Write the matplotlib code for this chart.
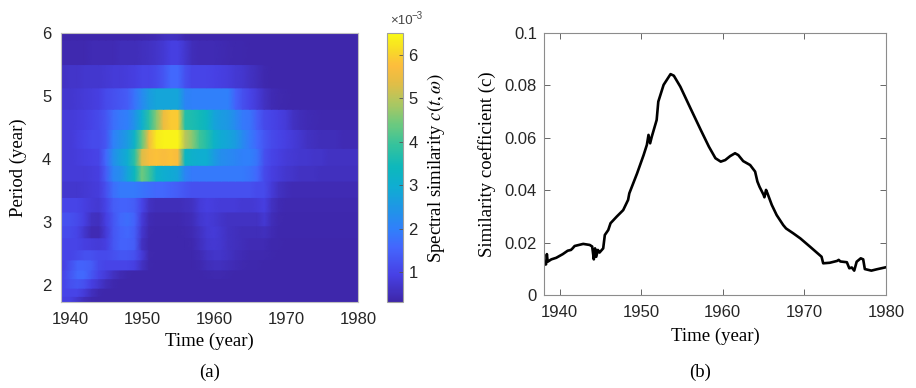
import numpy as np
import matplotlib
matplotlib.use('Agg')
import matplotlib.pyplot as plt
from matplotlib.colors import LinearSegmentedColormap


# period bin edges of the heat map rows (year), bottom to top
period_edges = [1.73, 1.82, 1.95, 2.10, 2.24, 2.40, 2.56, 2.75, 2.94, 3.16,
                3.39, 3.65, 3.90, 4.17, 4.47, 4.79, 5.13, 5.50, 5.89, 6.00]

# time nodes of the heat map (year)
map_years = list(range(1938, 1981))

# spectral similarity c(t, w) in units of 1e-3, one row per period bin, top row first
# columns: 1938 ... 1980
similarity_rows = [
    # 5.89 - 6.00
    [.35, .35, .35, .35, .35, .35, .35, .35, .35, .35,
     .35, .35, .38, .40, .45, .55, .60, .55, .40, .35,
     .35, .35, .35, .35, .35, .35, .35, .35, .35, .35,
     .35, .35, .35, .35, .35, .35, .35, .35, .35, .35,
     .35, .35, .35],
    # 5.50 - 5.89
    [.40, .40, .40, .40, .40, .45, .45, .45, .45, .50,
     .50, .50, .55, .60, .65, .75, .90, .90, .70, .50,
     .45, .45, .45, .42, .40, .38, .36, .35, .35, .35,
     .35, .35, .35, .35, .35, .35, .35, .35, .35, .35,
     .35, .35, .35],
    # 5.13 - 5.50
    [.60, .60, .65, .65, .70, .70, .70, .75, .80, .80,
     .85, .90, 1.0, 1.0, 1.1, 1.3, 1.6, 1.6, 1.2, 1.0,
     1.0, 1.0, .95, .90, .85, .75, .70, .60, .50, .40,
     .35, .35, .35, .35, .35, .35, .35, .35, .35, .35,
     .35, .35, .35],
    # 4.79 - 5.13
    [.70, .70, .70, .75, .80, .85, .90, 1.1, 1.2, 1.3,
     1.4, 1.8, 2.2, 2.6, 2.8, 2.8, 2.8, 2.8, 2.1, 2.0,
     2.0, 2.0, 2.0, 2.0, 2.0, 1.5, 1.2, 1.0, .80, .60,
     .45, .40, .38, .35, .35, .35, .35, .35, .35, .35,
     .35, .35, .35],
    # 4.47 - 4.79
    [.80, .80, .80, .85, .90, 1.0, 1.1, 1.3, 1.7, 1.9,
     2.0, 2.4, 3.0, 3.8, 4.6, 5.5, 5.9, 5.9, 3.7, 3.6,
     3.5, 3.3, 2.8, 2.6, 2.5, 2.2, 1.9, 1.8, 1.4, 1.1,
     1.0, .90, .80, .60, .50, .45, .42, .40, .40, .40,
     .40, .40, .40],
    # 4.17 - 4.47
    [.80, .80, .80, .90, 1.0, 1.1, 1.1, 1.3, 2.0, 2.3,
     2.6, 3.2, 4.3, 5.6, 6.3, 6.4, 6.4, 6.4, 5.0, 4.6,
     4.0, 3.7, 3.2, 2.9, 2.8, 2.6, 2.2, 1.9, 1.6, 1.3,
     1.1, 1.0, .90, .80, .70, .60, .55, .50, .50, .50,
     .45, .45, .45],
    # 3.90 - 4.17
    [.80, .80, .80, .85, .90, .95, 1.0, 1.6, 2.3, 2.7,
     3.0, 3.8, 5.3, 5.7, 5.8, 5.7, 5.8, 5.7, 3.3, 3.1,
     3.0, 3.0, 2.6, 2.3, 2.2, 2.1, 2.0, 2.0, 1.8, 1.2,
     1.0, .90, .80, .75, .70, .70, .65, .65, .60, .60,
     .60, .60, .60],
    # 3.65 - 3.90
    [.80, .80, .80, .80, .80, .85, .90, 1.4, 2.1, 2.3,
     2.8, 3.4, 4.4, 4.0, 3.2, 3.0, 2.9, 2.8, 2.1, 1.9,
     1.9, 1.9, 1.9, 1.9, 1.9, 1.9, 1.9, 1.8, 1.6, 1.1,
     .90, .80, .70, .65, .60, .60, .60, .55, .55, .55,
     .55, .55, .55],
    # 3.39 - 3.65
    [.70, .70, .70, .70, .75, .80, .85, 1.2, 1.7, 1.9,
     1.9, 1.9, 1.8, 1.7, 1.6, 1.6, 1.5, 1.4, 1.3, 1.2,
     1.2, 1.2, 1.2, 1.2, 1.2, 1.2, 1.2, 1.2, 1.1, 1.1,
     .80, .60, .50, .45, .45, .45, .45, .45, .45, .45,
     .45, .45, .45],
    # 3.16 - 3.39
    [1.0, 1.0, 1.0, 1.0, .90, .80, .75, 1.0, 1.4, 1.5,
     1.5, 1.4, 1.0, .60, .50, .50, .50, .50, .55, .60,
     .80, .90, .85, .80, .80, .80, .75, .75, .80, .90,
     .60, .45, .40, .40, .40, .40, .40, .40, .40, .40,
     .40, .40, .40],
    # 2.94 - 3.16
    [1.2, 1.2, 1.2, 1.1, .90, .60, .55, .90, 1.3, 1.6,
     1.7, 1.5, .80, .45, .40, .40, .40, .40, .45, .50,
     .70, .80, .75, .65, .60, .60, .60, .60, .60, .75,
     .50, .40, .38, .38, .38, .38, .38, .38, .38, .38,
     .38, .38, .38],
    # 2.75 - 2.94
    [1.1, 1.1, 1.1, 1.0, .70, .45, .45, .80, 1.3, 1.5,
     1.6, 1.4, .70, .40, .38, .38, .38, .38, .40, .45,
     .60, .75, .80, .70, .60, .55, .50, .50, .50, .55,
     .45, .38, .36, .36, .36, .36, .36, .36, .36, .36,
     .36, .36, .36],
    # 2.56 - 2.75
    [1.0, 1.0, 1.0, 1.0, .90, .85, .80, .90, 1.3, 1.5,
     1.5, 1.4, .60, .38, .36, .36, .36, .36, .38, .40,
     .55, .70, .75, .70, .60, .55, .50, .45, .45, .45,
     .38, .36, .35, .35, .35, .35, .35, .35, .35, .35,
     .35, .35, .35],
    # 2.40 - 2.56
    [1.0, 1.0, 1.0, 1.1, 1.2, 1.2, 1.1, 1.1, 1.2, 1.3,
     1.3, 1.2, .80, .40, .36, .36, .36, .36, .36, .38,
     .45, .60, .65, .65, .60, .50, .45, .40, .40, .40,
     .36, .35, .35, .35, .35, .35, .35, .35, .35, .35,
     .35, .35, .35],
    # 2.24 - 2.40
    [.90, .90, 1.2, 1.5, 1.5, 1.4, 1.1, 1.0, 1.0, 1.0,
     1.0, .90, .60, .38, .35, .35, .35, .35, .35, .35,
     .40, .50, .55, .55, .50, .45, .40, .38, .36, .35,
     .35, .35, .35, .35, .35, .35, .35, .35, .35, .35,
     .35, .35, .35],
    # 2.10 - 2.24
    [1.0, 1.0, 1.3, 1.6, 1.6, 1.3, 1.0, .80, .60, .45,
     .38, .35, .35, .35, .35, .35, .35, .35, .35, .35,
     .35, .38, .40, .40, .38, .35, .35, .35, .35, .35,
     .35, .35, .35, .35, .35, .35, .35, .35, .35, .35,
     .35, .35, .35],
    # 1.95 - 2.10
    [1.0, 1.0, 1.2, 1.3, 1.2, .90, .70, .50, .40, .35,
     .35, .35, .35, .35, .35, .35, .35, .35, .35, .35,
     .35, .35, .35, .35, .35, .35, .35, .35, .35, .35,
     .35, .35, .35, .35, .35, .35, .35, .35, .35, .35,
     .35, .35, .35],
    # 1.82 - 1.95
    [1.0, 1.0, 1.0, 1.0, .80, .55, .40, .35, .35, .35,
     .35, .35, .35, .35, .35, .35, .35, .35, .35, .35,
     .35, .35, .35, .35, .35, .35, .35, .35, .35, .35,
     .35, .35, .35, .35, .35, .35, .35, .35, .35, .35,
     .35, .35, .35],
    # 1.73 - 1.82
    [.90, .90, .90, .70, .50, .40, .35, .35, .35, .35,
     .35, .35, .35, .35, .35, .35, .35, .35, .35, .35,
     .35, .35, .35, .35, .35, .35, .35, .35, .35, .35,
     .35, .35, .35, .35, .35, .35, .35, .35, .35, .35,
     .35, .35, .35],
]

# similarity coefficient curve (panel b)
coef_years = [1938.0, 1938.35, 1938.45, 1938.55, 1939.0, 1939.6, 1940.4, 1941.0,
              1941.4, 1941.6, 1941.85, 1942.9, 1943.7, 1944.0, 1944.2, 1944.35,
              1944.5, 1944.7, 1944.9, 1945.35, 1945.55, 1945.97, 1946.25, 1947.0,
              1947.8, 1948.4, 1948.55, 1949.5, 1950.3, 1950.7, 1950.9, 1951.1,
              1951.3, 1951.9, 1952.1, 1952.75, 1953.6, 1954.0, 1954.8, 1956.05,
              1957.3, 1958.3, 1959.1, 1959.75, 1960.3, 1960.9, 1961.5, 1961.9,
              1962.5, 1963.35, 1963.96, 1964.24, 1964.5, 1965.0, 1965.1, 1965.3,
              1965.45, 1966.0, 1966.6, 1967.4, 1967.75, 1968.65, 1969.5, 1970.7,
              1972.1, 1972.3, 1973.1, 1974.0, 1974.2, 1974.4, 1975.2, 1975.5,
              1975.8, 1976.1, 1976.4, 1976.9, 1977.2, 1977.4, 1978.2, 1978.85,
              1980.0]
coef_values = [0.0115, 0.0117, 0.0156, 0.0127, 0.0136, 0.0142, 0.0156, 0.0169,
               0.0172, 0.0178, 0.0187, 0.0195, 0.0191, 0.0185, 0.0136, 0.0178,
               0.0146, 0.0172, 0.0162, 0.0178, 0.0229, 0.0248, 0.0274, 0.0299,
               0.0324, 0.0363, 0.0388, 0.0464, 0.0534, 0.0573, 0.0611, 0.0579,
               0.0604, 0.0668, 0.0738, 0.0802, 0.0843, 0.0837, 0.0795, 0.0712,
               0.0630, 0.0566, 0.0522, 0.0509, 0.0515, 0.0530, 0.0541, 0.0534,
               0.0511, 0.0496, 0.0471, 0.0433, 0.0413, 0.0382, 0.0373, 0.0401,
               0.0390, 0.0344, 0.0305, 0.0267, 0.0254, 0.0235, 0.0216, 0.0184,
               0.0146, 0.0121, 0.0123, 0.0130, 0.0134, 0.0128, 0.0125, 0.0102,
               0.0105, 0.0093, 0.0127, 0.0140, 0.0136, 0.0099, 0.0093, 0.0098,
               0.0106]

# parula-like colour map
parula_anchors = [
    (0.00, (0.242, 0.150, 0.660)),
    (0.10, (0.278, 0.254, 0.897)),
    (0.20, (0.267, 0.397, 0.992)),
    (0.27, (0.190, 0.500, 0.980)),
    (0.35, (0.120, 0.590, 0.900)),
    (0.43, (0.060, 0.680, 0.820)),
    (0.50, (0.050, 0.720, 0.740)),
    (0.58, (0.200, 0.760, 0.620)),
    (0.66, (0.420, 0.790, 0.500)),
    (0.74, (0.680, 0.780, 0.380)),
    (0.82, (0.900, 0.740, 0.270)),
    (0.88, (0.990, 0.740, 0.240)),
    (0.94, (0.970, 0.860, 0.150)),
    (1.00, (0.977, 0.984, 0.081)),
]
parula = LinearSegmentedColormap.from_list('parula', parula_anchors)

SANS = 'Liberation Sans'
SERIF = 'Liberation Serif'
plt.rcParams['font.family'] = SANS
plt.rcParams['mathtext.fontset'] = 'stix'
TICK_COLOR = '#262626'

fig = plt.figure(figsize=(9.16, 3.88), dpi=100)

# ---------- panel (a): heat map ----------
ax1 = fig.add_axes([0.0666, 0.2216, 0.3242, 0.6933])

# each row is flat vertically and shaded linearly in time
rows = np.array(similarity_rows)[::-1]
yrs = np.array(map_years, dtype=float)
X, Y, C = [], [], []
for i in range(len(rows)):
    for edge in (period_edges[i], period_edges[i + 1]):
        X.append(yrs)
        Y.append(np.full_like(yrs, edge))
        C.append(rows[i])
mesh = ax1.pcolormesh(np.array(X), np.array(Y), np.array(C), shading='gouraud',
                      cmap=parula, vmin=0.31, vmax=6.5, rasterized=True)

ax1.set_xlim(1938.75, 1980)
ax1.set_ylim(1.73, 6)
ax1.set_xticks([1940, 1950, 1960, 1970, 1980])
ax1.set_yticks([2, 3, 4, 5, 6])
ax1.tick_params(length=0, labelsize=12, labelcolor=TICK_COLOR, pad=7)
for s in ax1.spines.values():
    s.set_color('#c0c0c0')
    s.set_linewidth(0.8)
ax1.set_xlabel('Time (year)', family=SERIF, fontsize=13.5, labelpad=4)
ax1.set_ylabel('Period (year)', family=SERIF, fontsize=13.5, labelpad=11)

# colour bar
cax = fig.add_axes([0.4225, 0.2216, 0.0175, 0.6933])
cb = fig.colorbar(mesh, cax=cax)
cb.set_ticks([1, 2, 3, 4, 5, 6])
cb.outline.set_edgecolor('#a0a0a0')
cb.outline.set_linewidth(0.8)
cax.tick_params(direction='in', length=3, width=0.6, color='#555555',
                labelsize=12, labelcolor=TICK_COLOR, pad=4)
cb.set_label(r'Spectral similarity $c(t,\omega)$', family=SERIF, fontsize=13.5,
             labelpad=5)
fig.text(390 / 916, 1 - 21 / 388, '\u00d710', fontsize=9.5, color='#444444',
         ha='left', va='center')
fig.text(411 / 916, 1 - 16 / 388, '\u22123', fontsize=7, color='#444444',
         ha='left', va='center', family=['Liberation Sans', 'DejaVu Sans'])

# ---------- panel (b): similarity coefficient ----------
ax2 = fig.add_axes([0.5939, 0.2397, 0.3734, 0.6753])
ax2.plot(coef_years, coef_values, color='black', lw=1.9)
ax2.set_xlim(1938.1, 1980)
ax2.set_ylim(0, 0.1)
ax2.set_xticks([1940, 1950, 1960, 1970, 1980])
ax2.set_yticks([0, 0.02, 0.04, 0.06, 0.08, 0.1])
ax2.set_yticklabels(['0', '0.02', '0.04', '0.06', '0.08', '0.1'])
ax2.tick_params(direction='in', top=True, right=True, length=4, width=0.7,
                color='#666666', labelsize=12, labelcolor=TICK_COLOR)
ax2.tick_params(axis='x', pad=7)
ax2.tick_params(axis='y', pad=5)
for s in ax2.spines.values():
    s.set_color('#8c8c8c')
    s.set_linewidth(0.8)
ax2.set_xlabel('Time (year)', family=SERIF, fontsize=13.5, labelpad=6)
ax2.set_ylabel('Similarity coefficient (c)', family=SERIF, fontsize=13.5,
               labelpad=6)

fig.text(210 / 916, 1 - 372 / 388, '(a)', family=SERIF, fontsize=13.5,
         ha='center', va='center')
fig.text(700 / 916, 1 - 372 / 388, '(b)', family=SERIF, fontsize=13.5,
         ha='center', va='center')

fig.savefig('out.png', dpi=100)
